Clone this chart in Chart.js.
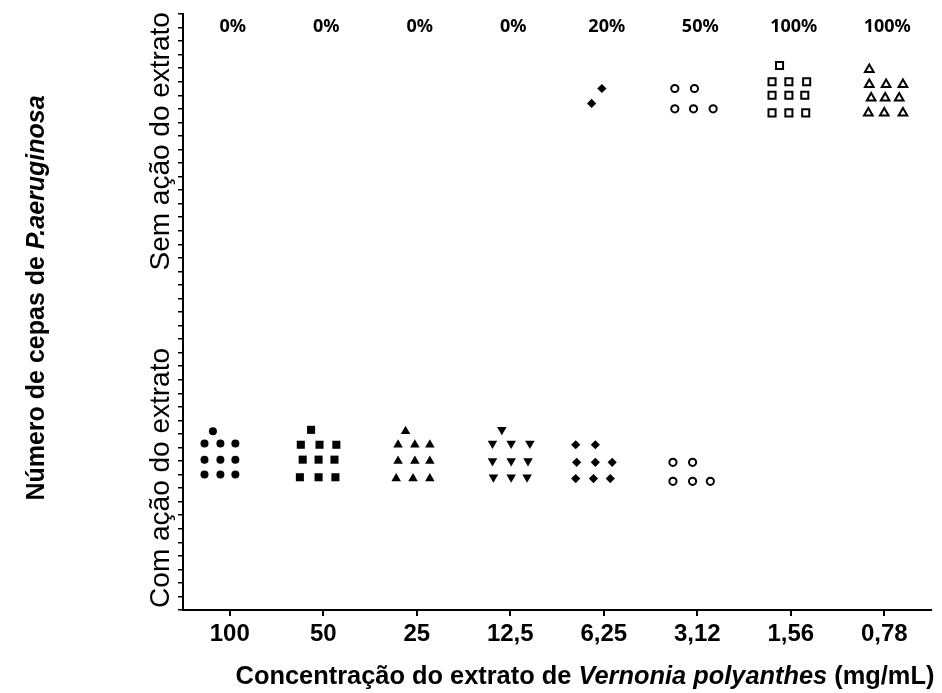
<!DOCTYPE html>
<html>
<head>
<meta charset="utf-8">
<script src="https://cdn.jsdelivr.net/npm/chart.js@4.4.1/dist/chart.umd.min.js"></script>
<style>
  body { margin: 0; background: #fff; }
</style>
</head>
<body>
<canvas id="myChart" width="942" height="693"></canvas>
<script>
// categories on the x axis (mg/mL)
const categories = ['100', '50', '25', '12,5', '6,25', '3,12', '1,56', '0,78'];
// share of strains with no action, written over each column
const percentLabels = ['0%', '0%', '0%', '0%', '20%', '50%', '100%', '100%'];
const yGroupLabels = ['Com ação do extrato', 'Sem ação do extrato'];
const yGroupCenters = [9.75, 34.6];

// each point: [offset from the column centre, y value]
// "com ação" (effect)
const com100 = [[-0.18, 13.2], [-0.27, 12.3], [-0.10, 12.3], [0.06, 12.3], [-0.27, 11.1], [-0.10, 11.1], [0.06, 11.1], [-0.27, 10.0], [-0.10, 10.0], [0.06, 10.0]];
const com50 = [[-0.13, 13.3], [-0.24, 12.2], [-0.04, 12.2], [0.14, 12.2], [-0.22, 11.1], [-0.05, 11.1], [0.12, 11.1], [-0.25, 9.8], [-0.05, 9.8], [0.13, 9.8]];
const com25 = [[-0.12, 13.2], [-0.20, 12.2], [-0.02, 12.2], [0.14, 12.2], [-0.20, 11.0], [-0.02, 11.0], [0.14, 11.0], [-0.22, 9.7], [-0.04, 9.7], [0.14, 9.7]];
const com12 = [[-0.09, 13.3], [-0.19, 12.3], [0.01, 12.3], [0.21, 12.3], [-0.19, 11.0], [0.01, 11.0], [0.19, 11.0], [-0.18, 9.8], [0.01, 9.8], [0.18, 9.8]];
const com6 = [[-0.30, 12.2], [-0.09, 12.2], [-0.29, 10.9], [-0.09, 10.9], [0.09, 10.9], [-0.30, 9.7], [-0.11, 9.7], [0.07, 9.7]];
const com3 = [[-0.26, 10.9], [-0.05, 10.9], [-0.26, 9.5], [-0.05, 9.5], [0.14, 9.5]];
// "sem ação" (no effect)
const sem6 = [[-0.02, 38.5], [-0.13, 37.4]];
const sem3 = [[-0.24, 38.5], [-0.03, 38.5], [-0.24, 37.0], [-0.04, 37.0], [0.17, 37.0]];
const sem1 = [[-0.12, 40.2], [-0.20, 39.0], [-0.02, 39.0], [0.17, 39.0], [-0.20, 38.0], [-0.02, 38.0], [0.15, 38.0], [-0.20, 36.7], [-0.02, 36.7], [0.16, 36.7]];
const sem0 = [[-0.16, 39.9], [-0.16, 38.8], [0.02, 38.8], [0.20, 38.8], [-0.14, 37.8], [0.01, 37.8], [0.16, 37.8], [-0.17, 36.7], [0.00, 36.7], [0.20, 36.7]];

const fontFam = '"Liberation Sans", Arial, sans-serif';

function toPoints(list, cat) {
    return list.map(p => ({ x: cat + p[0], y: p[1] }));
}

function series(list, cat, style, filled, radius, rotation) {
    return {
        data: toPoints(list, cat),
        pointStyle: style,
        pointRadius: radius,
        pointHoverRadius: radius,
        rotation: rotation || 0,
        backgroundColor: filled ? '#000' : '#fff',
        borderColor: '#000',
        borderWidth: filled ? 0 : 2,
        showLine: false
    };
}

const datasets = [
    series(com100, 0, 'circle', true, 4),
    series(com50, 1, 'rect', true, 5.7),
    series(com25, 2, 'triangle', true, 5.5),
    series(com12, 3, 'triangle', true, 5.5, 180),
    series(com6, 4, 'rectRot', true, 4.6),
    series(com3, 5, 'circle', false, 3.6),
    series(sem6, 4, 'rectRot', true, 4.6),
    series(sem3, 5, 'circle', false, 3.6),
    series(sem1, 6, 'rect', false, 5),
    series(sem0, 7, 'triangle', false, 5)
];

// titles, group labels and percentages
const textPlugin = {
    id: 'textPlugin',
    afterDraw(chart) {
        const ctx = chart.ctx;
        const xs = chart.scales.x;
        const ys = chart.scales.y;
        ctx.save();
        ctx.fillStyle = '#000';
        ctx.textBaseline = 'middle';

        // percentages over the columns
        ctx.textAlign = 'center';
        ctx.font = 'bold 18px "Noto Sans", sans-serif';
        percentLabels.forEach((t, i) => {
            ctx.fillText(t, xs.getPixelForValue(i) + 3, 27);
        });

        // group labels along y axis
        ctx.font = '28px ' + fontFam;
        yGroupLabels.forEach((t, i) => {
            ctx.save();
            ctx.translate(161, ys.getPixelForValue(yGroupCenters[i]));
            ctx.rotate(-Math.PI / 2);
            ctx.fillText(t, 0, 0);
            ctx.restore();
        });

        // y title, with italic species name
        const yParts = [['Número de cepas de ', 'bold'], ['P.aeruginosa', 'italic bold']];
        ctx.save();
        ctx.translate(37, 298);
        ctx.rotate(-Math.PI / 2);
        drawParts(ctx, yParts, 25);
        ctx.restore();

        // x title
        const xParts = [['Concentração do extrato de ', 'bold'], ['Vernonia polyanthes', 'italic bold'], [' (mg/mL)', 'bold']];
        ctx.save();
        ctx.translate(585, 677);
        drawParts(ctx, xParts, 25.4);
        ctx.restore();

        ctx.restore();
    }
};

function drawParts(ctx, parts, size) {
    let total = 0;
    parts.forEach(p => {
        ctx.font = p[1] + ' ' + size + 'px ' + fontFam;
        total += ctx.measureText(p[0]).width;
    });
    let x = -total / 2;
    ctx.textAlign = 'left';
    parts.forEach(p => {
        ctx.font = p[1] + ' ' + size + 'px ' + fontFam;
        ctx.fillText(p[0], x, 0);
        x += ctx.measureText(p[0]).width;
    });
}

const config = {
    type: 'scatter',
    data: { datasets: datasets },
    options: {
        responsive: false,
        animation: false,
        devicePixelRatio: 1,
        layout: { padding: { top: 14, right: 11, left: 0, bottom: 0 } },
        plugins: {
            legend: { display: false },
            tooltip: { enabled: false }
        },
        scales: {
            x: {
                type: 'linear',
                min: -0.5,
                max: 7.5,
                afterBuildTicks: (scale) => {
                    scale.ticks = categories.map((c, i) => ({ value: i }));
                },
                afterFit: (scale) => { scale.height = 83; },
                border: { display: true, color: '#000', width: 2 },
                grid: { drawOnChartArea: false, drawTicks: true, tickLength: 6, color: '#000', lineWidth: 2 },
                ticks: {
                    autoSkip: false,
                    maxRotation: 0,
                    padding: 4,
                    color: '#000',
                    font: { family: fontFam, size: 24, weight: 'bold' },
                    callback: (v) => categories[v]
                }
            },
            y: {
                min: 0,
                max: 44,
                afterFit: (scale) => { scale.width = 183; },
                border: { display: true, color: '#000', width: 2 },
                grid: { drawOnChartArea: false, drawTicks: true, tickLength: 5, color: '#000', lineWidth: 1.5 },
                ticks: {
                    stepSize: 1,
                    autoSkip: false,
                    callback: () => ''
                }
            }
        }
    },
    plugins: [textPlugin]
};

const myChart = new Chart(document.getElementById('myChart'), config);
</script>
</body>
</html>
